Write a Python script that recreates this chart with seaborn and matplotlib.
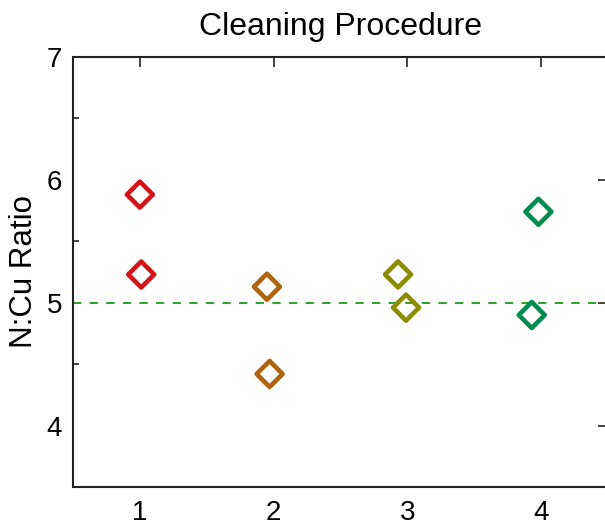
import matplotlib
matplotlib.use("Agg")
import matplotlib.pyplot as plt
import seaborn as sns
import pandas as pd

# Measured N:Cu ratios for each cleaning procedure (two samples each)
procedure = ["1", "1", "2", "2", "3", "3", "4", "4"]
procedure_x = [1.00, 1.01, 1.95, 1.97, 2.93, 2.99, 3.98, 3.93]
ratio = [5.88, 5.23, 5.13, 4.42, 5.23, 4.96, 5.74, 4.90]
reference_ratio = 5.0

group_colors = {"1": "#d41418", "2": "#b0620c", "3": "#8c8c00", "4": "#008c50"}
line_color = "#1a9a1a"
x_ticks = [1, 2, 3, 4]
y_ticks = [4, 5, 6, 7]

df = pd.DataFrame({"procedure": procedure, "x": procedure_x, "ratio": ratio})

sns.set_style("white")
plt.rcParams["font.family"] = ["Liberation Sans", "DejaVu Sans"]
plt.rcParams["text.color"] = "black"
plt.rcParams["axes.labelcolor"] = "black"

fig = plt.figure(figsize=(6.05, 5.2), dpi=100)
ax = fig.add_axes([73 / 605, 33 / 520, 535 / 605, 430 / 520])

ax.axhline(reference_ratio, color=line_color, lw=1.3, ls=(0, (4.6, 4.6)), zorder=1)

sns.scatterplot(data=df, x="x", y="ratio", hue="procedure", palette=group_colors,
                marker="D", s=175, linewidth=3.3, legend=False, ax=ax, zorder=3)
coll = ax.collections[-1]
coll.set_edgecolors(coll.get_facecolors())
coll.set_facecolors("none")

ax.set_xlim(0.5, 4.5)
ax.set_ylim(3.5, 7.0)
ax.set_xticks(x_ticks)
ax.set_yticks(y_ticks)
ax.set_yticks([4.5, 5.5, 6.5], minor=True)
ax.set_xlabel("")
ax.set_ylabel("N:Cu Ratio", fontsize=22.5)
ax.yaxis.set_label_coords((39 - 73) / 535, 0.5)

for side in ["left", "bottom", "top", "right"]:
    ax.spines[side].set_visible(True)
    ax.spines[side].set_color("#222222")
    ax.spines[side].set_linewidth(1.5)

ax.tick_params(axis="both", which="major", direction="in", length=7, width=1.2,
               labelsize=20, colors="#222222", labelcolor="black",
               top=True, right=True)
ax.tick_params(axis="x", which="major", pad=9)
ax.tick_params(axis="y", which="major", pad=8)
ax.tick_params(axis="y", which="minor", direction="in", length=4, width=1.2,
               left=True, right=False, colors="#222222")

ax.set_title("Cleaning Procedure", fontsize=23, pad=16, color="black")

fig.savefig("out.png", dpi=100)
